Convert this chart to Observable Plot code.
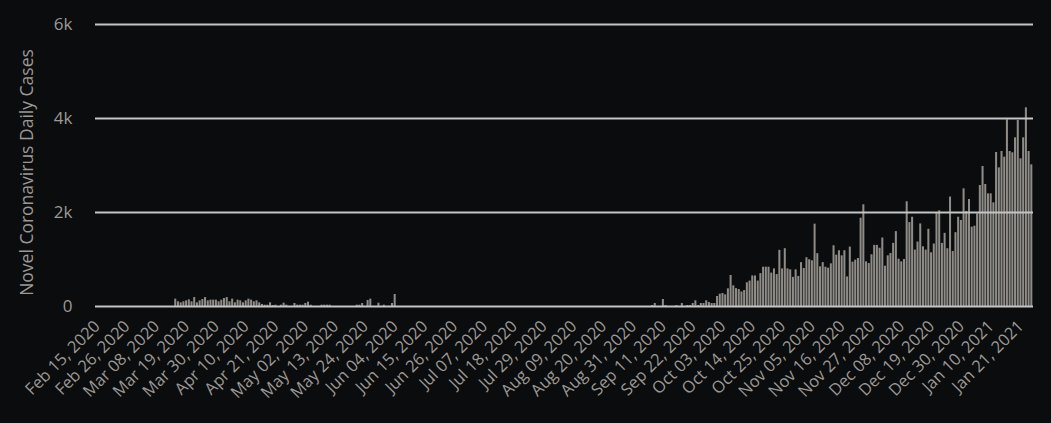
<!DOCTYPE html>
<html>
<head>
<meta charset="utf-8">
<script src="https://cdn.jsdelivr.net/npm/d3@7"></script>
<script src="https://cdn.jsdelivr.net/npm/@observablehq/plot@0.6"></script>
<style>
  html, body { margin: 0; padding: 0; background: #0b0c0e; }
  #chart { width: 1051px; height: 423px; }
</style>
</head>
<body>
<div id="chart"></div>
<script>
// Daily new cases, Feb 15, 2020 – Jan 25, 2021 (one array per month)
const startDate = "2020-02-15";
const casesFeb2020 = [0,0,0,0,0,0,0,0,0,0,0,0,0,0,0];
const casesMar2020 = [0,0,0,0,0,0,0,0,0,0,0,0,0,0,156,100,78,100,120,142,100,190,78,120,149,190,120,135,135,135,100];
const casesApr2020 = [135,170,190,100,156,78,135,120,78,120,156,135,100,120,78,43,28,28,78,21,28,0,28,71,28,0,0,64,28,28];
const casesMay2020 = [28,64,92,28,0,0,0,28,28,28,28,0,0,0,0,0,0,0,0,0,28,28,64,0,128,156,0,0,71,0,28];
const casesJun2020 = [0,0,64,256,0,0,0,0,0,0,0,0,0,0,0,0,0,0,0,0,0,0,0,0,0,0,0,0,0,0];
const casesJul2020 = [0,0,0,0,0,0,0,0,0,0,0,0,0,0,0,0,0,0,0,0,0,0,0,0,0,0,0,0,0,0,0];
const casesAug2020 = [0,0,0,0,0,0,0,0,0,0,0,0,0,0,0,0,0,0,0,0,0,0,0,0,0,0,0,0,0,0,0];
const casesSep2020 = [0,0,0,0,0,0,21,64,0,0,149,21,0,0,0,21,0,64,0,21,21,64,121,21,64,64,121,85,64,64];
const casesOct2020 = [213,262,277,248,376,660,440,380,361,310,339,505,541,650,650,541,700,836,836,836,710,800,680,1195,800,1230,800,780,620,780,640];
const casesNov2020 = [933,808,1038,995,973,1752,1124,844,934,836,815,908,1292,1093,1186,1078,1186,629,1264,943,986,1021,1879,2164,950,914,1100,1300,1300,1240];
const casesDec2020 = [1457,857,1078,1128,1343,1593,1007,950,1000,2229,1786,1900,1200,1371,1757,1271,1200,1643,1143,1329,2000,2036,1343,1557,1229,2329,1171,1571,1900,1830,2504];
const casesJan2021 = [2021,2276,1688,1709,1972,2574,2979,2596,2397,2397,2206,3277,2950,3298,3177,3972,3298,3270,3589,3957,3142,3589,4227,3298,3014];

const yTicks = [0, 2000, 4000, 6000];
const xTickEvery = 11; // one date label every 11 days
const yLabel = "Novel Coronavirus Daily Cases";

const cases = [].concat(casesFeb2020, casesMar2020, casesApr2020, casesMay2020, casesJun2020,
  casesJul2020, casesAug2020, casesSep2020, casesOct2020, casesNov2020, casesDec2020, casesJan2021);
const start = new Date(startDate + "T00:00:00Z");
const dates = cases.map((_, i) => d3.utcDay.offset(start, i));
const data = cases.map((v, i) => ({date: dates[i], cases: v}));
const xTicks = dates.filter((d, i) => i % xTickEvery === 0);
const fmt = d3.utcFormat("%b %d, %Y");

const chart = Plot.plot({
  width: 1051,
  height: 423,
  marginLeft: 95,
  marginRight: 18,
  marginTop: 24,
  marginBottom: 117,
  style: {background: "#0b0c0e", color: "#9c9995", fontFamily: "'Open Sans', sans-serif", fontSize: "17px", overflow: "visible"},
  x: {type: "band", domain: dates, padding: 0.25},
  y: {domain: [0, 6000]},
  marks: [
    Plot.barY(data, {x: "date", y: "cases", fill: "#8f8c88"}),
    Plot.gridY(yTicks, {stroke: "#c4c4c4", strokeOpacity: 1, strokeWidth: 2}),
    Plot.axisY(yTicks, {tickSize: 0, tickPadding: 23, fontSize: 17,
      tickFormat: d => d === 0 ? "0" : (d / 1000) + "k", label: null}),
    Plot.text([yLabel], {frameAnchor: "left", textAnchor: "middle", lineAnchor: "middle", rotate: -90,
      dx: -68, dy: 7, fontSize: 17.5, fill: "#9c9995"}),
    Plot.axisX(xTicks, {tickSize: 0, tickPadding: 17, tickRotate: -45, fontSize: 16.5,
      tickFormat: fmt, label: null})
  ]
});
document.getElementById("chart").appendChild(chart);
</script>
</body>
</html>
